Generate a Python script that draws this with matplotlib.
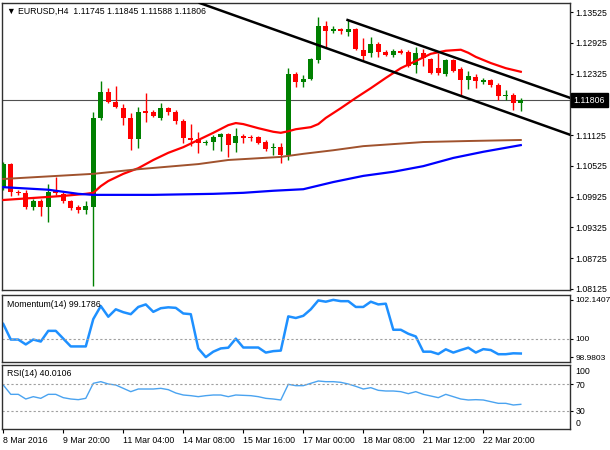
import numpy as np
import matplotlib
matplotlib.use('Agg')
import matplotlib.pyplot as plt
import matplotlib.transforms as mtransforms

plt.rcParams['font.family'] = ['Liberation Sans', 'DejaVu Sans']
fs = 6.3  # fontsize

# H4 bars, 8 Mar 12:00 .. 23 Mar 16:00 (index 0..69)
opens = [1.1009, 1.1056, 1.1002, 1.1000, 1.0972, 1.0984, 1.0972, 1.1006, 1.0998, 1.0984,
         1.0972, 1.0966, 1.0972, 1.1146, 1.1197, 1.1177, 1.1165, 1.1146, 1.1105, 1.1160,
         1.1158, 1.1146, 1.1165, 1.1158, 1.1140, 1.1107, 1.1105, 1.1097, 1.1099, 1.1109,
         1.1115, 1.1097, 1.1111, 1.1109, 1.1109, 1.1099, 1.1087, 1.1089, 1.1074, 1.1232,
         1.1216, 1.1222, 1.1259, 1.1325, 1.1316, 1.1319, 1.1314, 1.1319, 1.1278, 1.1273,
         1.1290, 1.1275, 1.1269, 1.1277, 1.1275, 1.1249, 1.1273, 1.1261, 1.1243, 1.1232,
         1.1259, 1.1241, 1.1220, 1.1226, 1.1216, 1.1220, 1.1210, 1.1189, 1.1191, 1.11745]
highs = [1.1060, 1.1058, 1.1006, 1.1006, 1.0988, 1.0988, 1.1017, 1.1031, 1.1002, 1.0986,
         1.0976, 1.0984, 1.1158, 1.1218, 1.1204, 1.1208, 1.1173, 1.1156, 1.1167, 1.1195,
         1.1161, 1.1175, 1.1167, 1.1161, 1.1144, 1.1134, 1.1119, 1.1103, 1.1113, 1.1117,
         1.1117, 1.1126, 1.1115, 1.1113, 1.1111, 1.1103, 1.1097, 1.1097, 1.1243, 1.1236,
         1.1230, 1.1263, 1.1343, 1.1335, 1.1325, 1.1321, 1.1337, 1.1321, 1.1302, 1.1304,
         1.1294, 1.1278, 1.1280, 1.1280, 1.1278, 1.1284, 1.1280, 1.1263, 1.1273, 1.1261,
         1.1261, 1.1245, 1.1238, 1.1232, 1.1224, 1.1222, 1.1214, 1.1200, 1.1195, 1.11845]
lows = [1.1006, 1.0994, 1.0996, 1.0968, 1.0966, 1.0955, 1.0943, 1.0996, 1.0980, 1.0966,
        1.0961, 1.0959, 1.0818, 1.1142, 1.1175, 1.1165, 1.1132, 1.1083, 1.1087, 1.1138,
        1.1148, 1.1142, 1.1152, 1.1134, 1.1097, 1.1091, 1.1078, 1.1093, 1.1083, 1.1082,
        1.1070, 1.1080, 1.1097, 1.1101, 1.1095, 1.1082, 1.1074, 1.1058, 1.1064, 1.1206,
        1.1206, 1.1220, 1.1253, 1.1284, 1.1312, 1.1310, 1.1306, 1.1278, 1.1259, 1.1265,
        1.1265, 1.1267, 1.1265, 1.1271, 1.1245, 1.1234, 1.1247, 1.1232, 1.1230, 1.1228,
        1.1236, 1.1189, 1.1202, 1.1204, 1.1212, 1.1206, 1.1181, 1.1181, 1.1161, 1.11588]
closes = [1.1056, 1.1002, 1.1000, 1.0972, 1.0984, 1.0972, 1.1002, 1.1000, 1.0984, 1.0970,
          1.0966, 1.0974, 1.1146, 1.1197, 1.1177, 1.1167, 1.1146, 1.1105, 1.1158, 1.1156,
          1.1150, 1.1165, 1.1158, 1.1140, 1.1107, 1.1103, 1.1097, 1.1099, 1.1109, 1.1115,
          1.1093, 1.1111, 1.1107, 1.1107, 1.1097, 1.1085, 1.1089, 1.1074, 1.1232, 1.1216,
          1.1222, 1.1261, 1.1325, 1.1316, 1.1319, 1.1316, 1.1319, 1.1280, 1.1267, 1.1290,
          1.1275, 1.1269, 1.1277, 1.1273, 1.1247, 1.1273, 1.1263, 1.1234, 1.1234, 1.1259,
          1.1238, 1.1220, 1.1228, 1.1218, 1.1220, 1.1210, 1.1189, 1.1191, 1.1175, 1.11806]

# moving averages, read at bar index
red_idx = [0, 4, 8, 11, 12, 13, 14, 16, 18, 20, 22, 24, 26, 28, 30, 31, 32, 34, 36, 37,
           38, 39, 40, 41, 42, 43, 45, 47, 49, 51, 53, 55, 57, 59, 61, 62, 63, 65, 67, 69]
red_val = [1.0986, 1.0990, 1.0994, 1.0998, 1.1000, 1.1013, 1.1023, 1.1037, 1.1048, 1.1064,
           1.1078, 1.1089, 1.1103, 1.1117, 1.1132, 1.1136, 1.1134, 1.1126, 1.1119, 1.1117,
           1.1120, 1.1124, 1.1126, 1.1128, 1.1134, 1.1146, 1.1165, 1.1185, 1.1204, 1.1224,
           1.1243, 1.1257, 1.1271, 1.1277, 1.1279, 1.1273, 1.1265, 1.1253, 1.1243, 1.1236]
brown_idx = [0, 12, 18, 26, 30, 37, 40, 44, 48, 52, 56, 62, 69]
brown_val = [1.1027, 1.1037, 1.1046, 1.1056, 1.1064, 1.1070, 1.1076, 1.1083, 1.1091,
             1.1095, 1.1099, 1.1101, 1.1103]
blue_idx = [0, 6, 10, 12, 20, 28, 32, 36, 40, 44, 48, 52, 56, 60, 64, 69]
blue_val = [1.1011, 1.1006, 1.0998, 1.0996, 1.0996, 1.0998, 1.1000, 1.1004, 1.1007,
            1.1021, 1.1033, 1.1041, 1.1052, 1.1068, 1.1080, 1.1093]

# channel lines (bar index, price)
lower_x, lower_y = [26.2, 75.6], [1.1370, 1.1113]
upper_x, upper_y = [45.9, 75.6], [1.1337, 1.1185]

momentum = [100.81, 99.95, 99.95, 99.68, 99.95, 99.84, 100.43, 100.43, 100.00, 99.57,
            99.57, 99.57, 101.08, 101.80, 101.21, 101.62, 101.46, 101.35, 101.75, 101.89,
            101.48, 101.68, 101.73, 101.70, 101.39, 101.35, 99.46, 98.9803, 99.28, 99.46,
            99.50, 100.00, 99.51, 99.51, 99.51, 99.23, 99.31, 99.34, 101.23, 101.14,
            101.26, 101.62, 102.11, 102.04, 102.1407, 102.07, 102.07, 101.75, 101.75, 102.04,
            101.89, 101.93, 100.49, 100.49, 100.27, 100.12, 99.28, 99.28, 99.15, 99.41,
            99.23, 99.37, 99.50, 99.23, 99.42, 99.37, 99.14, 99.14, 99.19, 99.1786]
rsi = [69, 55, 55, 48, 51.5, 49, 55, 55, 50, 48,
       47, 49, 71.5, 74, 70.5, 69, 64, 59, 63, 63,
       63, 64, 62, 57, 54, 53, 51.5, 53, 54, 54,
       51.5, 54, 53.5, 53, 51.5, 49, 48, 46.5, 70, 68,
       68, 71.5, 75, 74, 74, 73, 70.5, 67, 63, 65,
       61, 60, 60, 59, 56, 59, 55, 52.5, 50, 55,
       51.5, 48, 46.5, 47, 46.5, 44, 41.5, 41.5, 39, 40.0106]

price_ticks = [1.13525, 1.12925, 1.12325, 1.11725, 1.11125, 1.10525, 1.09925, 1.09325, 1.08725, 1.08125]
date_pos = [0, 8, 16, 24, 32, 40, 48, 56, 64]
date_labels = ['8 Mar 2016', '9 Mar 20:00', '11 Mar 04:00', '14 Mar 08:00', '15 Mar 16:00',
               '17 Mar 00:00', '18 Mar 08:00', '21 Mar 12:00', '22 Mar 20:00']

W, H = 610, 450
fig = plt.figure(figsize=(W/100, H/100), dpi=100)

def px_axes(l, t, r, b):
    return fig.add_axes([l/W, 1 - b/H, (r - l)/W, (b - t)/H])

ax = px_axes(2, 3, 570, 290)
axm = px_axes(2, 295, 570, 362)
axr = px_axes(2, 365, 570, 429)

xlim = (-0.17, 75.56)
for a in (ax, axm, axr):
    a.set_xlim(xlim)
    a.yaxis.tick_right()
    a.tick_params(axis='y', direction='out', length=2.5, pad=1.5, labelsize=fs, width=0.8)
    for s in a.spines.values():
        s.set_color('#303030')
        s.set_linewidth(1.0)
for a in (ax, axm):
    a.set_xticks([])

# candles
o = np.array(opens); h = np.array(highs); l = np.array(lows); c = np.array(closes)
x = np.arange(len(o))
cols = np.where(c >= o, '#008000', '#ff0000')
ax.vlines(x, l, h, colors=cols, lw=1, zorder=3)
body = np.maximum(np.abs(c - o), 0.00004)
ax.bar(x, body, bottom=np.minimum(o, c), width=0.62, color=cols, zorder=4)

ax.plot(red_idx, red_val, color='#ff0000', lw=1.6, zorder=5)
ax.plot(brown_idx, brown_val, color='#a0522d', lw=1.4, zorder=5)
ax.plot(blue_idx, blue_val, color='#0000ff', lw=1.6, zorder=5)
ax.plot(lower_x, lower_y, color='black', lw=1.8, zorder=6)
ax.plot(upper_x, upper_y, color='black', lw=1.8, zorder=6)

ax.set_ylim(1.08105, 1.13701)
ax.set_yticks(price_ticks)
ax.set_yticklabels(['%.5f' % v for v in price_ticks])
ax.axhline(closes[-1], color='#505050', lw=0.8, zorder=2)
trans = mtransforms.blended_transform_factory(ax.transAxes, ax.transData)
ax.text(1.006, closes[-1], '%.5f' % closes[-1], transform=trans, color='white', fontsize=fs,
        va='center', ha='left', clip_on=False, zorder=10,
        bbox=dict(boxstyle='square,pad=0.3', fc='black', ec='black'))
ax.text(0.009, 0.985, '\u25BC EURUSD,H4  1.11745 1.11845 1.11588 1.11806',
        transform=ax.transAxes, fontsize=fs, va='top', ha='left')

# momentum
axm.plot(x, momentum, color='#1e90ff', lw=1.8)
axm.axhline(100, color='#a0a0a0', lw=0.8, ls=(0, (2, 2)))
axm.set_ylim(98.71, 102.41)
axm.set_yticks([98.9803, 100, 102.1407])
axm.set_yticklabels(['98.9803', '100', '102.1407'])
axm.tick_params(axis='y', labelsize=6.0)
axm.text(0.009, 0.93, 'Momentum(14) 99.1786', transform=axm.transAxes, fontsize=fs,
         va='top', ha='left')

# RSI
axr.plot(x, rsi, color='#4aa3f0', lw=1.0)
axr.axhline(70, color='#a0a0a0', lw=0.8, ls=(0, (2, 2)))
axr.axhline(30, color='#a0a0a0', lw=0.8, ls=(0, (2, 2)))
axr.set_ylim(3, 99)
axr.set_yticks([30, 70])
axr.set_yticklabels(['30', '70'])
axr.text(1.01, 0.9, '100', transform=axr.transAxes, fontsize=fs, va='center', ha='left')
axr.text(1.01, 0.08, '0', transform=axr.transAxes, fontsize=fs, va='center', ha='left')
axr.text(0.009, 0.93, 'RSI(14) 40.0106', transform=axr.transAxes, fontsize=fs,
         va='top', ha='left')
axr.set_xticks(date_pos)
axr.set_xticklabels(date_labels, ha='left')
axr.tick_params(axis='x', direction='out', length=3, pad=2, labelsize=fs, width=0.8)

fig.savefig('out.png', dpi=100)
